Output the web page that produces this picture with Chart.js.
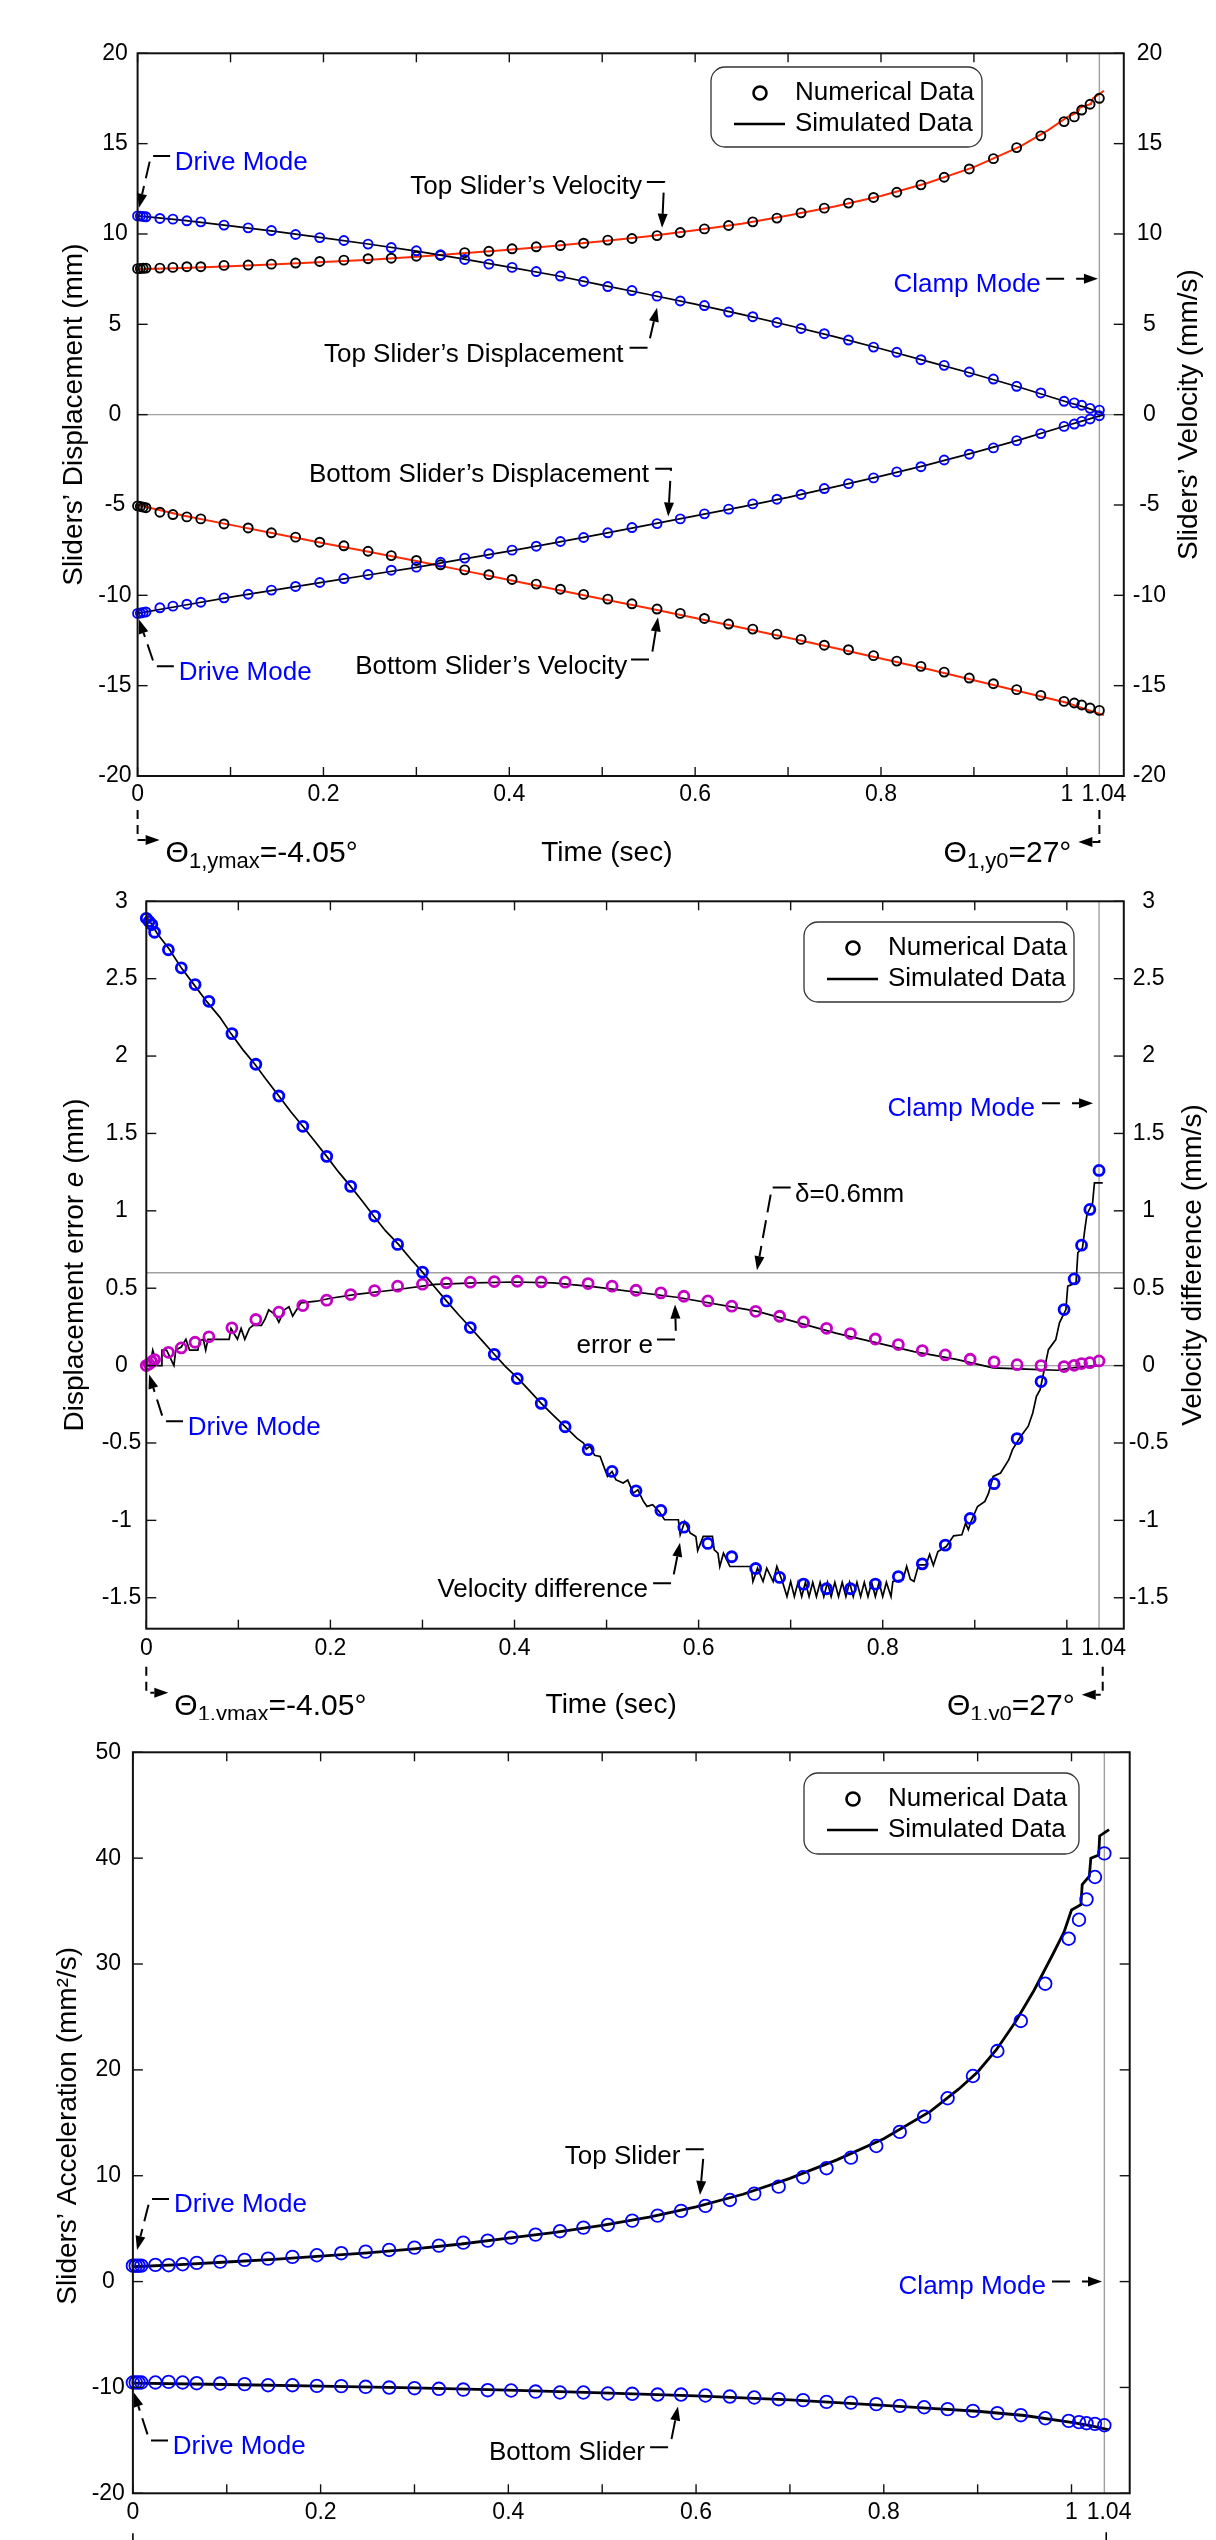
<!DOCTYPE html>
<html>
<head>
<meta charset="utf-8">
<script src="https://cdn.jsdelivr.net/npm/chart.js@4.4.1/dist/chart.umd.min.js"></script>
<style>
body{margin:0;background:#fff;width:1216px;height:2540px;position:relative;overflow:hidden}
canvas{position:absolute;left:0}
</style>
</head>
<body>
<canvas id="c1" width="1216" height="875" style="top:0;width:1216px;height:875px"></canvas>
<canvas id="c2" width="1216" height="845" style="top:875px;width:1216px;height:845px"></canvas>
<canvas id="c3" width="1216" height="820" style="top:1720px;width:1216px;height:820px"></canvas>
<script>
const FONT = '"Liberation Sans", Arial, Helvetica, sans-serif';
const BLUE = '#0000ff', RED = '#ff2a00', MAG = '#c400c4';
const W = 1216;

// time stamps of the numerical data (same for all panels)
const tNum = [0,0.003,0.006,0.009,0.024,0.038,0.053,0.068,0.093,0.119,0.144,0.170,0.196,0.222,0.248,0.273,0.300,0.326,
  0.352,0.378,0.403,0.429,0.455,0.480,0.506,0.532,0.559,0.584,0.610,0.636,0.662,0.688,0.714,0.739,0.765,0.792,0.817,0.843,
  0.868,0.895,0.921,0.946,0.972,0.997,1.008,1.016,1.025,1.035];

// ---- panel 1 : displacement / velocity
const topDisp = [11.0,10.99,10.97,10.95,10.86,10.82,10.73,10.67,10.49,10.34,10.19,9.97,9.80,9.64,9.44,9.25,9.07,8.85,
  8.59,8.33,8.15,7.92,7.67,7.37,7.09,6.87,6.56,6.29,6.04,5.68,5.42,5.10,4.77,4.48,4.13,3.74,3.45,3.04,
  2.73,2.36,1.97,1.57,1.20,0.74,0.65,0.52,0.35,0.25];
const topVel = [8.08,8.09,8.10,8.11,8.11,8.15,8.19,8.19,8.26,8.28,8.33,8.39,8.48,8.55,8.63,8.66,8.77,8.81,
  8.97,9.04,9.18,9.29,9.36,9.49,9.66,9.75,9.91,10.08,10.28,10.47,10.67,10.88,11.17,11.43,11.71,12.02,12.31,12.72,
  13.14,13.60,14.17,14.78,15.43,16.22,16.48,16.86,17.18,17.51];
const botDisp = [-11.0,-10.98,-10.95,-10.92,-10.69,-10.60,-10.49,-10.38,-10.14,-9.94,-9.71,-9.51,-9.29,-9.07,-8.85,-8.61,-8.44,-8.17,
  -7.94,-7.70,-7.50,-7.28,-7.02,-6.80,-6.54,-6.25,-6.03,-5.77,-5.49,-5.23,-4.94,-4.68,-4.42,-4.09,-3.82,-3.50,-3.17,-2.88,
  -2.51,-2.19,-1.84,-1.44,-1.05,-0.65,-0.52,-0.37,-0.24,-0.06];
const botVel = [-5.05,-5.08,-5.12,-5.15,-5.40,-5.53,-5.66,-5.77,-6.05,-6.27,-6.54,-6.78,-7.06,-7.26,-7.56,-7.80,-8.07,-8.31,
  -8.59,-8.86,-9.12,-9.38,-9.66,-9.95,-10.21,-10.47,-10.76,-11.00,-11.28,-11.59,-11.87,-12.15,-12.44,-12.76,-13.01,-13.34,-13.64,-13.93,
  -14.25,-14.58,-14.89,-15.22,-15.54,-15.87,-15.96,-16.07,-16.24,-16.37];
const topDispSim = [[0,11.0],[0.05,10.75],[0.1,10.45],[0.15,10.13],[0.2,9.78],[0.25,9.43],[0.3,9.05],[0.35,8.62],[0.4,8.17],
  [0.45,7.7],[0.5,7.17],[0.55,6.65],[0.6,6.12],[0.65,5.55],[0.7,4.95],[0.75,4.32],[0.8,3.65],[0.85,2.95],[0.9,2.25],
  [0.95,1.5],[1.0,0.7],[1.02,0.4],[1.04,0.05]];
const topVelSim = [[0,8.05],[0.05,8.12],[0.1,8.22],[0.15,8.32],[0.2,8.45],[0.25,8.58],[0.3,8.74],[0.35,8.93],[0.4,9.13],
  [0.45,9.35],[0.5,9.6],[0.55,9.88],[0.6,10.2],[0.65,10.57],[0.7,11.02],[0.75,11.52],[0.8,12.1],[0.85,12.82],[0.9,13.7],
  [0.95,14.85],[0.98,15.75],[1.0,16.45],[1.012,16.75],[1.014,17.0],[1.026,17.2],[1.028,17.5],[1.04,17.93]];
const botDispSim = [[0,-11.0],[0.05,-10.55],[0.1,-10.1],[0.15,-9.68],[0.2,-9.27],[0.25,-8.86],[0.3,-8.45],[0.35,-8.0],[0.4,-7.55],
  [0.45,-7.08],[0.5,-6.6],[0.55,-6.1],[0.6,-5.6],[0.65,-5.1],[0.7,-4.58],[0.75,-4.0],[0.8,-3.4],[0.85,-2.78],[0.9,-2.1],
  [0.95,-1.38],[1.0,-0.6],[1.02,-0.3],[1.04,0.0]];
const botVelSim = [[0,-5.0],[0.05,-5.6],[0.1,-6.1],[0.15,-6.6],[0.2,-7.12],[0.25,-7.6],[0.3,-8.1],[0.35,-8.62],[0.4,-9.15],
  [0.45,-9.68],[0.5,-10.2],[0.55,-10.72],[0.6,-11.25],[0.65,-11.8],[0.7,-12.35],[0.75,-12.92],[0.8,-13.5],[0.85,-14.08],
  [0.9,-14.7],[0.95,-15.32],[1.0,-15.95],[1.02,-16.3],[1.04,-16.63]];

// ---- panel 2 : errors
const velDiff = [2.89,2.87,2.85,2.80,2.687,2.570,2.462,2.354,2.145,1.947,1.742,1.546,1.352,1.158,0.966,0.783,0.604,0.418,
  0.246,0.073,-0.084,-0.244,-0.395,-0.543,-0.684,-0.809,-0.936,-1.044,-1.149,-1.235,-1.311,-1.369,-1.412,-1.442,-1.442,-1.412,-1.363,-1.281,
  -1.160,-0.988,-0.763,-0.472,-0.103,0.362,0.56,0.778,1.009,1.261];
const errE = [0.0,0.01,0.025,0.039,0.086,0.114,0.151,0.186,0.244,0.298,0.345,0.388,0.423,0.459,0.485,0.513,0.526,0.535,
  0.539,0.543,0.545,0.541,0.539,0.530,0.513,0.487,0.470,0.448,0.418,0.384,0.351,0.319,0.282,0.241,0.207,0.172,0.136,0.097,
  0.069,0.041,0.024,0.006,0.0,-0.006,0.002,0.013,0.019,0.030];
const velDiffSim = [[0,2.9],[0.005,2.86],[0.012,2.79],[0.025,2.69],[0.038,2.57],[0.052,2.46],[0.066,2.35],[0.08,2.25],[0.092,2.145],
  [0.105,2.04],[0.118,1.947],[0.13,1.85],[0.144,1.742],[0.157,1.64],[0.17,1.546],[0.183,1.45],[0.196,1.352],[0.209,1.25],
  [0.222,1.158],[0.235,1.06],[0.247,0.966],[0.26,0.87],[0.274,0.783],[0.287,0.69],[0.3,0.604],[0.313,0.51],[0.326,0.418],
  [0.339,0.33],[0.352,0.246],[0.365,0.16],[0.378,0.073],[0.39,-0.005],[0.404,-0.084],[0.416,-0.16],[0.429,-0.244],[0.442,-0.32],
  [0.455,-0.395],[0.468,-0.47],[0.475,-0.5],[0.478,-0.54],[0.482,-0.52],[0.487,-0.58],[0.493,-0.587],
  [0.501,-0.716],[0.506,-0.684],[0.51,-0.737],[0.518,-0.759],[0.523,-0.74],[0.529,-0.824],[0.534,-0.802],[0.54,-0.877],
  [0.544,-0.91],[0.55,-0.899],[0.557,-0.942],[0.563,-0.996],[0.578,-0.996],[0.58,-1.093],[0.585,-1.007],[0.591,-1.082],
  [0.597,-1.104],[0.599,-1.195],[0.605,-1.104],[0.615,-1.104],[0.617,-1.19],[0.621,-1.212],[0.623,-1.298],[0.627,-1.212],
  [0.634,-1.298],[0.657,-1.298],[0.659,-1.395],[0.664,-1.309],[0.67,-1.395],[0.674,-1.309],[0.681,-1.395],[0.685,-1.298],
  [0.691,-1.395],[0.696,-1.492],[0.7,-1.395],[0.704,-1.492],[0.708,-1.4],[0.712,-1.492],[0.716,-1.4],[0.72,-1.492],
  [0.724,-1.4],[0.728,-1.492],[0.732,-1.4],[0.736,-1.492],[0.74,-1.4],[0.744,-1.492],[0.748,-1.4],[0.752,-1.492],
  [0.756,-1.4],[0.76,-1.492],[0.764,-1.4],[0.768,-1.492],[0.772,-1.4],[0.776,-1.492],[0.78,-1.4],[0.784,-1.492],
  [0.788,-1.4],[0.792,-1.492],[0.796,-1.4],[0.8,-1.492],[0.804,-1.4],[0.809,-1.492],[0.811,-1.395],[0.822,-1.384],
  [0.826,-1.298],[0.83,-1.38],[0.834,-1.395],[0.839,-1.287],[0.847,-1.287],[0.851,-1.22],[0.855,-1.29],[0.86,-1.201],
  [0.869,-1.169],[0.877,-1.1],[0.886,-1.093],[0.89,-1.018],[0.893,-1.06],[0.896,-1.007],[0.903,-0.91],[0.911,-0.877],
  [0.915,-0.824],[0.92,-0.716],[0.928,-0.694],[0.937,-0.608],[0.941,-0.543],[0.95,-0.457],[0.958,-0.393],[0.963,-0.306],
  [0.967,-0.199],[0.971,-0.155],[0.98,0.103],[0.988,0.168],[0.992,0.276],[0.999,0.362],[1.001,0.513],[1.01,0.535],
  [1.012,0.73],[1.017,0.76],[1.02,0.9],[1.022,0.98],[1.028,1.05],[1.03,1.18],[1.039,1.18]];
const errSim = [[0,0],[0.004,0],[0.007,0.1],[0.012,0],[0.016,0],[0.017,0.1],[0.022,0.1],[0.03,0],[0.032,0.1],[0.038,0.12],
  [0.043,0.17],[0.047,0.1],[0.056,0.1],[0.058,0.16],[0.062,0.17],[0.0645,0.1],[0.067,0.17],[0.09,0.17],[0.092,0.24],
  [0.099,0.17],[0.103,0.24],[0.107,0.17],[0.112,0.24],[0.116,0.26],[0.125,0.26],[0.129,0.3],[0.133,0.36],[0.14,0.33],
  [0.144,0.28],[0.15,0.36],[0.155,0.38],[0.159,0.32],[0.168,0.405],[0.185,0.416],[0.2,0.435],[0.228,0.46],[0.271,0.49],
  [0.314,0.525],[0.357,0.535],[0.4,0.54],[0.442,0.535],[0.485,0.51],[0.578,0.44],[0.664,0.35],[0.749,0.21],[0.834,0.09],
  [0.88,0.04],[0.92,-0.015],[0.963,-0.025],[0.99,-0.03],[1.005,-0.015],[1.035,0]];

// ---- panel 3 : acceleration
const topAcc = [1.5,1.5,1.5,1.51,1.58,1.55,1.64,1.77,1.89,2.05,2.17,2.33,2.49,2.68,2.83,2.99,3.21,3.40,
  3.68,3.87,4.15,4.44,4.76,5.10,5.35,5.76,6.23,6.68,7.15,7.71,8.31,8.97,9.86,10.71,11.71,12.81,14.14,15.58,
  17.32,19.42,21.78,24.62,28.14,32.39,34.18,36.11,38.22,40.45];
const botAcc = [-9.53,-9.53,-9.53,-9.53,-9.53,-9.47,-9.53,-9.60,-9.63,-9.69,-9.79,-9.79,-9.85,-9.88,-9.94,-10.01,-10.07,-10.13,
  -10.20,-10.26,-10.29,-10.39,-10.48,-10.48,-10.57,-10.60,-10.67,-10.67,-10.76,-10.86,-10.95,-11.11,-11.20,-11.36,-11.43,-11.58,-11.74,-11.87,
  -12.05,-12.21,-12.43,-12.62,-12.91,-13.16,-13.28,-13.38,-13.44,-13.57];
const topAccSim = [[0,1.4],[0.05,1.6],[0.1,1.85],[0.15,2.1],[0.2,2.4],[0.25,2.72],[0.3,3.1],[0.35,3.55],[0.4,4.1],[0.45,4.65],
  [0.5,5.3],[0.55,6.1],[0.6,7.05],[0.65,8.25],[0.7,9.75],[0.75,11.5],[0.8,13.5],[0.85,16.1],[0.88,18.2],[0.9,19.8],
  [0.92,21.9],[0.94,24.5],[0.96,27.5],[0.98,30.9],[0.992,33.0],[1.0,35.1],[1.01,35.6],[1.0114,37.5],[1.019,38.3],
  [1.0206,40.0],[1.029,40.3],[1.03,42.1],[1.04,42.7]];
const botAccSim = [[0,-9.6],[0.1,-9.72],[0.2,-9.87],[0.3,-10.05],[0.4,-10.25],[0.5,-10.52],[0.6,-10.8],[0.7,-11.18],
  [0.8,-11.7],[0.85,-11.98],[0.9,-12.25],[0.95,-12.65],[1.0,-13.3],[1.02,-13.6],[1.04,-14.0]];

// ---- axes
const xLabelTicks = [0,0.2,0.4,0.6,0.8,1,1.04];
const xMarkTicks = [0,0.1,0.2,0.3,0.4,0.5,0.6,0.7,0.8,0.9,1.0];
const yTicks1 = [-20,-15,-10,-5,0,5,10,15,20];
const yTicks2 = [-1.5,-1,-0.5,0,0.5,1,1.5,2,2.5,3];
const yTicks3 = [-20,-10,0,10,20,30,40,50];

function pts(vs){ return tNum.map((t,i)=>({x:t,y:vs[i]})); }
function pairs(a){ return a.map(p=>({x:p[0],y:p[1]})); }
function circles(vs,color,r,bw){
  return {data:pts(vs),showLine:false,pointRadius:r,pointHoverRadius:r,pointBorderWidth:bw,
    pointBorderColor:color,pointBackgroundColor:'rgba(0,0,0,0)',clip:false,order:0};
}
function curve(a,color,w){
  return {data:pairs(a),showLine:true,pointRadius:0,borderColor:color,borderWidth:w,fill:false,tension:0,clip:false,order:1};
}

function seg(ctx,x1,y1,x2,y2){ ctx.beginPath(); ctx.moveTo(x1,y1); ctx.lineTo(x2,y2); ctx.stroke(); }

// polyline whose last point is the arrow tip
function arrowPath(ctx,p,dash){
  ctx.save(); ctx.strokeStyle='#000'; ctx.fillStyle='#000'; ctx.lineWidth=2; ctx.setLineDash(dash||[]);
  const n=p.length, tx=p[n-1][0], ty=p[n-1][1];
  const a=Math.atan2(ty-p[n-2][1],tx-p[n-2][0]), L=14, H=5;
  const bx=tx-L*Math.cos(a), by=ty-L*Math.sin(a);
  ctx.beginPath(); ctx.moveTo(p[0][0],p[0][1]);
  for(let i=1;i<n-1;i++) ctx.lineTo(p[i][0],p[i][1]);
  ctx.lineTo(bx,by); ctx.stroke();
  ctx.setLineDash([]);
  ctx.beginPath(); ctx.moveTo(tx,ty);
  ctx.lineTo(bx+H*Math.sin(a),by-H*Math.cos(a));
  ctx.lineTo(bx-H*Math.sin(a),by+H*Math.cos(a));
  ctx.closePath(); ctx.fill();
  ctx.restore();
}

function vTitle(ctx,parts,x,y){
  ctx.save(); ctx.translate(x,y); ctx.rotate(-Math.PI/2);
  ctx.textBaseline='alphabetic'; ctx.textAlign='left'; ctx.fillStyle='#000';
  let total=0; parts.forEach(p=>{ ctx.font=p.f; p.w=ctx.measureText(p.t).width; total+=p.w; });
  let cx=-total/2;
  parts.forEach(p=>{ ctx.font=p.f; ctx.fillText(p.t,cx,p.dy||0); cx+=p.w; });
  ctx.restore();
}

function theta(ctx,x,y,sub,rest,align){
  const big='30px '+FONT, small='22px '+FONT;
  ctx.save(); ctx.fillStyle='#000'; ctx.textBaseline='alphabetic'; ctx.textAlign='left';
  ctx.font=big; const w1=ctx.measureText('\u0398').width, w3=ctx.measureText(rest).width;
  ctx.font=small; const w2=ctx.measureText(sub).width;
  const x0 = align==='right' ? x-(w1+w2+w3) : x;
  ctx.font=big; ctx.fillText('\u0398',x0,y);
  ctx.font=small; ctx.fillText(sub,x0+w1,y+6);
  ctx.font=big; ctx.fillText(rest,x0+w1+w2,y);
  ctx.restore();
}

function legendBox(ctx,bx,by,w,h){
  ctx.save();
  ctx.strokeStyle='#333'; ctx.lineWidth=1.3;
  ctx.beginPath(); ctx.roundRect(bx,by,w,h,14); ctx.stroke();
  ctx.strokeStyle='#000'; ctx.lineWidth=2.6;
  ctx.beginPath(); ctx.arc(bx+49,by+26,6.5,0,Math.PI*2); ctx.stroke();
  seg(ctx,bx+23,by+57,bx+74,by+57);
  ctx.fillStyle='#000'; ctx.font='26px '+FONT; ctx.textBaseline='middle'; ctx.textAlign='left';
  ctx.fillText('Numerical Data',bx+84,by+26);
  ctx.fillText('Simulated Data',bx+84,by+57);
  ctx.restore();
}

function deco(p){
  return {
    id:'deco',
    beforeDatasetsDraw(chart){
      const {ctx,chartArea:a,scales:{x,y}}=chart;
      ctx.save(); ctx.strokeStyle='#a0a0a0'; ctx.lineWidth=1.4;
      p.hlines.forEach(v=>{ const yy=y.getPixelForValue(v); seg(ctx,a.left,yy,a.right,yy); });
      const xx=x.getPixelForValue(1.035); seg(ctx,xx,a.top,xx,a.bottom);
      ctx.restore();
    },
    afterDatasetsDraw(chart){
      const {ctx,chartArea:a,scales:{x,y}}=chart;
      // frame and inward ticks
      ctx.save(); ctx.strokeStyle='#111'; ctx.lineWidth=2;
      ctx.strokeRect(a.left,a.top,a.right-a.left,a.bottom-a.top);
      ctx.lineWidth=1.4;
      xMarkTicks.forEach(v=>{ const xx=x.getPixelForValue(v); seg(ctx,xx,a.bottom,xx,a.bottom-9); seg(ctx,xx,a.top,xx,a.top+9); });
      p.yticks.forEach(v=>{ const yy=y.getPixelForValue(v); seg(ctx,a.left,yy,a.left+10,yy); seg(ctx,a.right,yy,a.right-10,yy); });
      ctx.restore();
      // axis titles
      const cy=(a.top+a.bottom)/2+(p.titleShift||0);
      vTitle(ctx,p.leftTitle,p.leftTitleX,cy);
      if(p.rightTitle) vTitle(ctx,p.rightTitle,p.rightTitleX,cy);
      legendBox(ctx,p.legend[0],p.legend[1],p.legend[2],p.legend[3]);
      // annotations
      p.notes.forEach(n=>{
        const tx=x.getPixelForValue(n.at[0]), ty=y.getPixelForValue(n.at[1]);
        ctx.save(); ctx.font='26px '+FONT; ctx.fillStyle=n.c||'#000';
        ctx.textAlign=n.al; ctx.textBaseline='middle'; ctx.fillText(n.t,tx,ty); ctx.restore();
        arrowPath(ctx,n.path.map(q=>[x.getPixelForValue(q[0]),y.getPixelForValue(q[1])]),n.dash);
      });
      // below the time axis
      const b=a.bottom, x0=x.getPixelForValue(0);
      if(p.below){
        const xr=x.getPixelForValue(p.below.rx);
        arrowPath(ctx,[[x0,b+p.below.d0],[x0,b+p.below.d1],[x0+22,b+p.below.d1]],[9,6]);
        arrowPath(ctx,[[xr,b+p.below.d0],[xr,b+p.below.d1+2],[xr-21,b+p.below.d1+2]],[9,6]);
        theta(ctx,x0+28,b+86,'1,ymax','=-4.05\u00b0','left');
        theta(ctx,xr-28,b+86,p.below.sub,'=27\u00b0','right');
        ctx.save(); ctx.font='28px '+FONT; ctx.fillStyle='#000'; ctx.textAlign='center'; ctx.textBaseline='alphabetic';
        ctx.fillText('Time (sec)',x.getPixelForValue(0.505),b+p.below.tb); ctx.restore();
      } else {
        ctx.save(); ctx.strokeStyle='#000'; ctx.lineWidth=1.6; ctx.setLineDash([9,6]);
        const xr=x.getPixelForValue(1.037);
        seg(ctx,x0,b+40,x0,b+60); seg(ctx,xr,b+39,xr,b+60); ctx.restore();
      }
    }
  };
}

function makeChart(id,p,datasets){
  const tickFont={family:FONT,size:23};
  return new Chart(document.getElementById(id),{
    type:'scatter',
    data:{datasets},
    options:{
      responsive:false, animation:false, devicePixelRatio:1, events:[],
      layout:{padding:{top:p.top,left:0,right:0,bottom:0},autoPadding:false},
      plugins:{legend:{display:false},tooltip:{enabled:false}},
      scales:{
        x:{type:'linear',min:0,max:p.xmax,grid:{display:false,drawTicks:false,tickLength:0},border:{display:false},
          afterBuildTicks:s=>{ s.ticks=xLabelTicks.map(v=>({value:v})); },
          afterFit:s=>{ s.height=p.h-p.bottom; },
          ticks:{autoSkip:false,maxRotation:0,minRotation:0,padding:p.xpad,color:'#000',font:tickFont,
            callback:v=>String(+(+v).toFixed(2))}},
        y:{type:'linear',position:'left',min:p.ymin,max:p.ymax,grid:{display:false,drawTicks:false,tickLength:0},border:{display:false},
          afterBuildTicks:s=>{ s.ticks=p.yticks.map(v=>({value:v})); },
          afterFit:s=>{ s.width=p.left; },
          ticks:{padding:p.lpad,crossAlign:'center',color:'#000',font:tickFont,callback:v=>String(v)}},
        y2:{type:'linear',position:'right',min:p.ymin,max:p.ymax,grid:{display:false,drawTicks:false,tickLength:0},border:{display:false},
          afterBuildTicks:s=>{ s.ticks=p.yticks.map(v=>({value:v})); },
          afterFit:s=>{ s.width=W-p.right; },
          ticks:{display:p.rightLabels,padding:p.rpad,crossAlign:'center',color:'#000',font:tickFont,callback:v=>String(v)}}
      }
    },
    plugins:[deco(p)]
  });
}

const T28 = '28px '+FONT;

makeChart('c1',{
  h:875, top:53.3, bottom:776, left:137.6, right:1123.8, xmax:1.0613, ymin:-20, ymax:20, yticks:yTicks1,
  xpad:5, lpad:6, rpad:9, rightLabels:true, hlines:[0],
  leftTitle:[{t:'Sliders\u2019 Displacement (mm)',f:T28}], leftTitleX:82,
  rightTitle:[{t:'Sliders\u2019 Velocity (mm/s)',f:T28}], rightTitleX:1197,
  legend:[711,67,271,80],
  notes:[
    {t:'Drive Mode',c:BLUE,al:'left',at:[0.040,13.93],path:[[0.035,14.32],[0.0144,14.32],[0.0015,11.45]],dash:[17,8]},
    {t:'Top Slider\u2019s Velocity',al:'right',at:[0.5429,12.61],path:[[0.548,12.88],[0.5666,12.88],[0.5644,10.34]],dash:[18,10,200]},
    {t:'Top Slider\u2019s Displacement',al:'right',at:[0.523,3.32],path:[[0.5294,3.70],[0.549,3.70],[0.559,5.92]],dash:[18,10,200]},
    {t:'Clamp Mode',c:BLUE,al:'right',at:[0.972,7.19],path:[[0.9777,7.52],[1.0335,7.52]],dash:[18,12,200]},
    {t:'Bottom Slider\u2019s Displacement',al:'right',at:[0.5504,-3.32],path:[[0.557,-2.99],[0.574,-2.99],[0.571,-5.64]],dash:[18,10,200]},
    {t:'Bottom Slider\u2019s Velocity',al:'right',at:[0.527,-13.93],path:[[0.531,-13.55],[0.5526,-13.55],[0.56,-11.22]],dash:[18,10,200]},
    {t:'Drive Mode',c:BLUE,al:'left',at:[0.0442,-14.27],path:[[0.039,-13.93],[0.0187,-13.93],[0.0015,-11.34]],dash:[17,8]}
  ],
  below:{rx:1.035,d0:34,d1:64,tb:85,sub:'1,y0'}
},[
  circles(topDisp,BLUE,4.5,1.9), circles(topVel,'#000',4.5,1.9), circles(botDisp,BLUE,4.5,1.9), circles(botVel,'#000',4.5,1.9),
  curve(topDispSim,'#000',1.7), curve(topVelSim,RED,2), curve(botDispSim,'#000',1.7), curve(botVelSim,RED,2)
]);

makeChart('c2',{
  h:845, top:26.3, bottom:753.7, left:146.3, right:1123.8, xmax:1.0619, ymin:-1.7, ymax:3, yticks:yTicks2,
  xpad:6, lpad:5, rpad:5, rightLabels:true, hlines:[0,0.6],
  leftTitle:[{t:'Displacement error ',f:T28},{t:'e',f:'italic '+T28},{t:' (mm)',f:T28}], leftTitleX:83,
  rightTitle:[{t:'Velocity difference (mm/s)',f:T28}], rightTitleX:1201,
  legend:[804,47,270,80],
  notes:[
    {t:'Clamp Mode',c:BLUE,al:'right',at:[0.9654,1.656],path:[[0.973,1.695],[1.0285,1.695]],dash:[18,12,200]},
    {t:'\u03b4=0.6mm',al:'left',at:[0.7048,1.106],path:[[0.70,1.151],[0.6797,1.151],[0.6634,0.6164]],dash:[18,8]},
    {t:'error e',al:'right',at:[0.5505,0.125],path:[[0.5548,0.168],[0.5755,0.168],[0.5744,0.3946]],dash:[18,10,200]},
    {t:'Velocity difference',al:'right',at:[0.545,-1.449],path:[[0.5505,-1.406],[0.5711,-1.406],[0.5798,-1.145]],dash:[18,10,200]},
    {t:'Drive Mode',c:BLUE,al:'left',at:[0.0451,-0.401],path:[[0.0399,-0.36],[0.0192,-0.36],[0.003,-0.058]],dash:[17,8]}
  ],
  below:{rx:1.039,d0:38,d1:64,tb:84,sub:'1,y0'}
},[
  circles(velDiff,BLUE,5,2.8), circles(errE,MAG,5,2.8),
  curve(velDiffSim,'#000',1.7), curve(errSim,'#000',1.7)
]);

makeChart('c3',{
  h:820, top:32.3, bottom:773.3, left:132.9, right:1129.7, xmax:1.062, ymin:-20, ymax:50, yticks:yTicks3,
  xpad:6, lpad:8, rpad:8, rightLabels:false, hlines:[],
  leftTitle:[{t:'Sliders\u2019 Acceleration (mm\u00b2/s)',f:T28}], leftTitleX:76, titleShift:3,
  legend:[804,53,275,81],
  notes:[
    {t:'Drive Mode',c:BLUE,al:'left',at:[0.0438,7.25],path:[[0.0385,7.8],[0.0182,7.8],[0.0044,2.99]],dash:[17,8]},
    {t:'Top Slider',al:'right',at:[0.5834,11.81],path:[[0.589,12.51],[0.6085,12.51],[0.6042,8.19]],dash:[18,10,200]},
    {t:'Clamp Mode',c:BLUE,al:'right',at:[0.9728,-0.47],path:[[0.9792,0],[1.0325,0]],dash:[18,12,200]},
    {t:'Bottom Slider',al:'right',at:[0.5456,-16.21],path:[[0.551,-15.64],[0.5721,-15.64],[0.5807,-11.81]],dash:[18,10,200]},
    {t:'Drive Mode',c:BLUE,al:'left',at:[0.0425,-15.59],path:[[0.0374,-15.02],[0.0177,-15.02],[0.0012,-10.51]],dash:[17,8]}
  ],
  below:null
},[
  circles(topAcc,BLUE,6.3,1.8), circles(botAcc,BLUE,6.3,1.8),
  curve(topAccSim,'#000',2.8), curve(botAccSim,'#000',2.8)
]);
</script>
</body>
</html>
